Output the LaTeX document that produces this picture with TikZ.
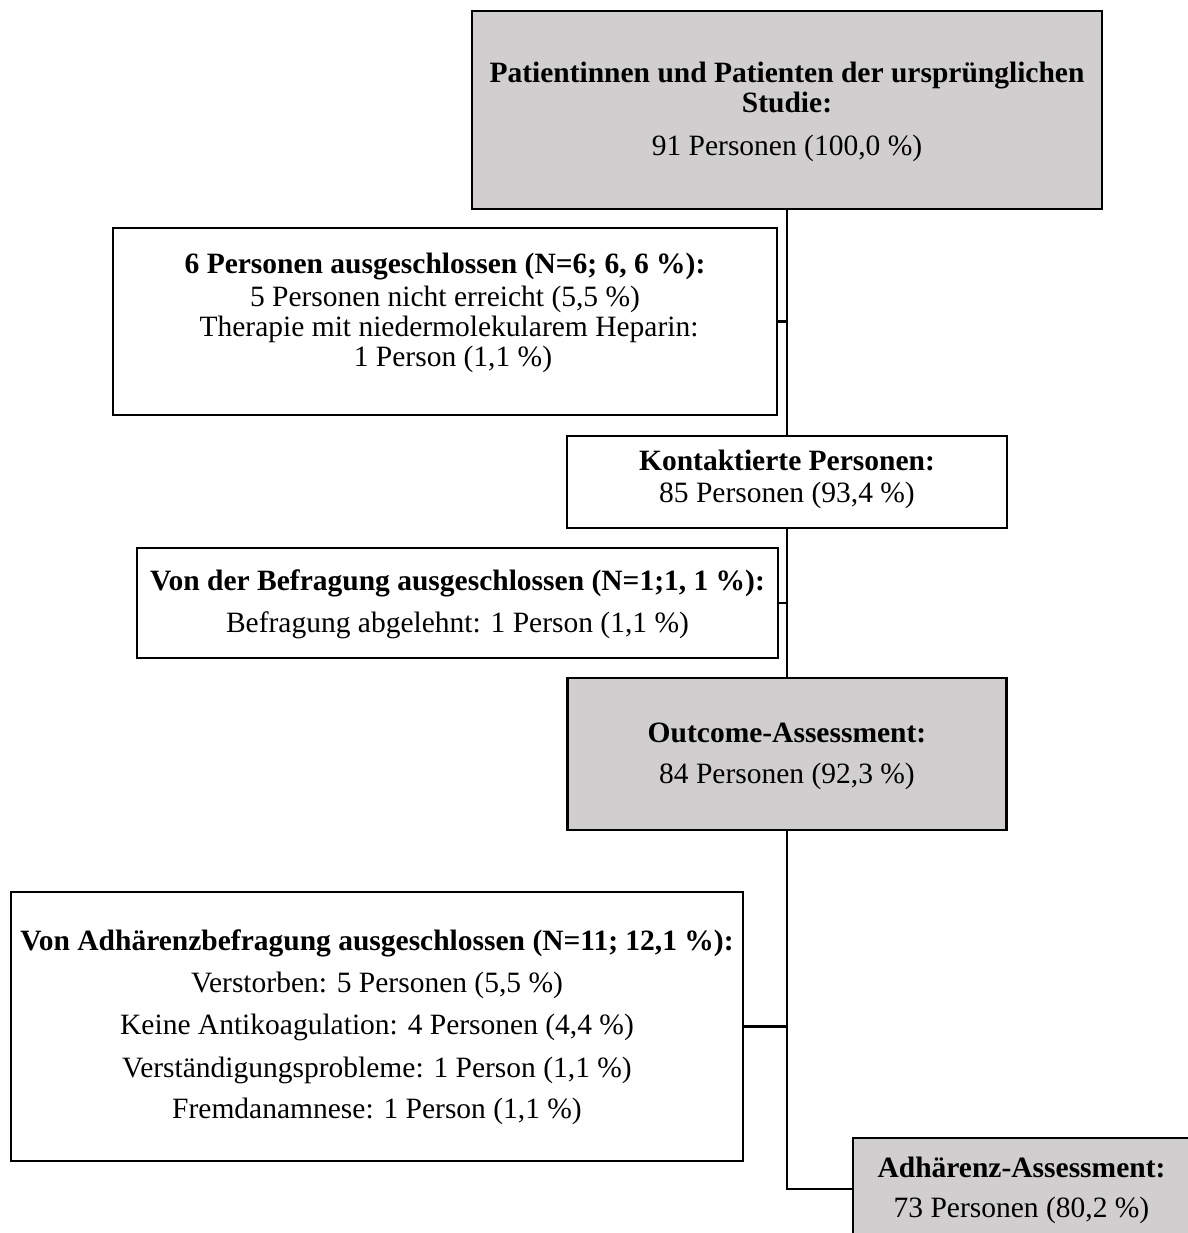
\documentclass[tikz,border=0pt]{standalone}
\usepackage{fontspec}
\setmainfont{Liberation Serif}
\definecolor{boxgray}{RGB}{208,206,207}
\begin{document}
\begin{tikzpicture}[x=0.5pt,y=-0.5pt,
  box/.style={draw=black,line width=1.4pt,fill=white,inner sep=0pt,rectangle},
  graybox/.style={box,fill=boxgray},
  txt/.style={inner sep=0pt,anchor=base,font=\fontsize{14.75pt}{17pt}\selectfont},
  btxt/.style={txt,font=\fontsize{14.75pt}{17pt}\selectfont\bfseries},
  conn/.style={draw=black,line width=1.3pt}]
\useasboundingbox (0,0) rectangle (1188,1233);
\clip (0,0) rectangle (1188,1233);
% boxes
\node[graybox,minimum width=315pt,minimum height=99pt] (b1) at (787,110) {};
\node[box,minimum width=332pt,minimum height=93.5pt] (b2) at (445,321.5) {};
\node[box,minimum width=220pt,minimum height=46pt] (b3) at (787,482) {};
\node[box,minimum width=320.5pt,minimum height=55pt] (b4) at (457.5,603) {};
\node[graybox,minimum width=219.5pt,minimum height=76pt] (b5) at (787,754) {};
\node[box,minimum width=366pt,minimum height=134.5pt] (b6) at (377,1026.5) {};
\node[graybox,minimum width=168.5pt,minimum height=51pt] (b7) at (1021.5,1189) {};
% connectors
\path[conn] (b1.south) -- (b3.north);
\path[conn] (b3.south) -- (b5.north);
\path[conn] (b5.south) |- (b7.west);
\path[conn] (b2.east) -- (b2.east -| b1.south);
\path[conn] (b4.east) -- (b4.east -| b3.south);
\path[conn] (b6.east) -- (b6.east -| b5.south);
% texts
\node[btxt] (t1a) at (787,82) {Patientinnen und Patienten der ursprünglichen};
\node[btxt] (t1b) at (787,112) {Studie:};
\node[txt] (t1c) at (787,155) {91 Personen (100,0 \%)};
\node[btxt] (t2a) at (445,273) {6 Personen ausgeschlossen (N=6; 6, 6 \%):};
\node[txt] (t2b) at (445,306) {5 Personen nicht erreicht (5,5 \%)};
\node[txt] (t2c) at (449,336) {Therapie mit niedermolekularem Heparin:};
\node[txt] (t2d) at (453,366) {1 Person (1,1 \%)};
\node[btxt] (t3a) at (787,470) {Kontaktierte Personen:};
\node[txt] (t3b) at (787,502) {85 Personen (93,4 \%)};
\node[btxt] (t4a) at (457.5,590) {Von der Befragung ausgeschlossen (N=1;1, 1 \%):};
\node[txt] (t4b) at (457.5,632) {Befragung abgelehnt: 1 Person (1,1 \%)};
\node[btxt] (t5a) at (787,742) {Outcome-Assessment:};
\node[txt] (t5b) at (787,783) {84 Personen (92,3 \%)};
\node[btxt] (t6a) at (377,950) {Von Adhärenzbefragung ausgeschlossen (N=11; 12,1 \%):};
\node[txt] (t6b) at (377,992) {Verstorben: 5 Personen (5,5 \%)};
\node[txt] (t6c) at (377,1034) {Keine Antikoagulation: 4 Personen (4,4 \%)};
\node[txt] (t6d) at (377,1077) {Verständigungsprobleme: 1 Person (1,1 \%)};
\node[txt] (t6e) at (377,1118) {Fremdanamnese: 1 Person (1,1 \%)};
\node[btxt] (t7a) at (1021.5,1177) {Adhärenz-Assessment:};
\node[txt] (t7b) at (1021.5,1217) {73 Personen (80,2 \%)};
\end{tikzpicture}
\end{document}
